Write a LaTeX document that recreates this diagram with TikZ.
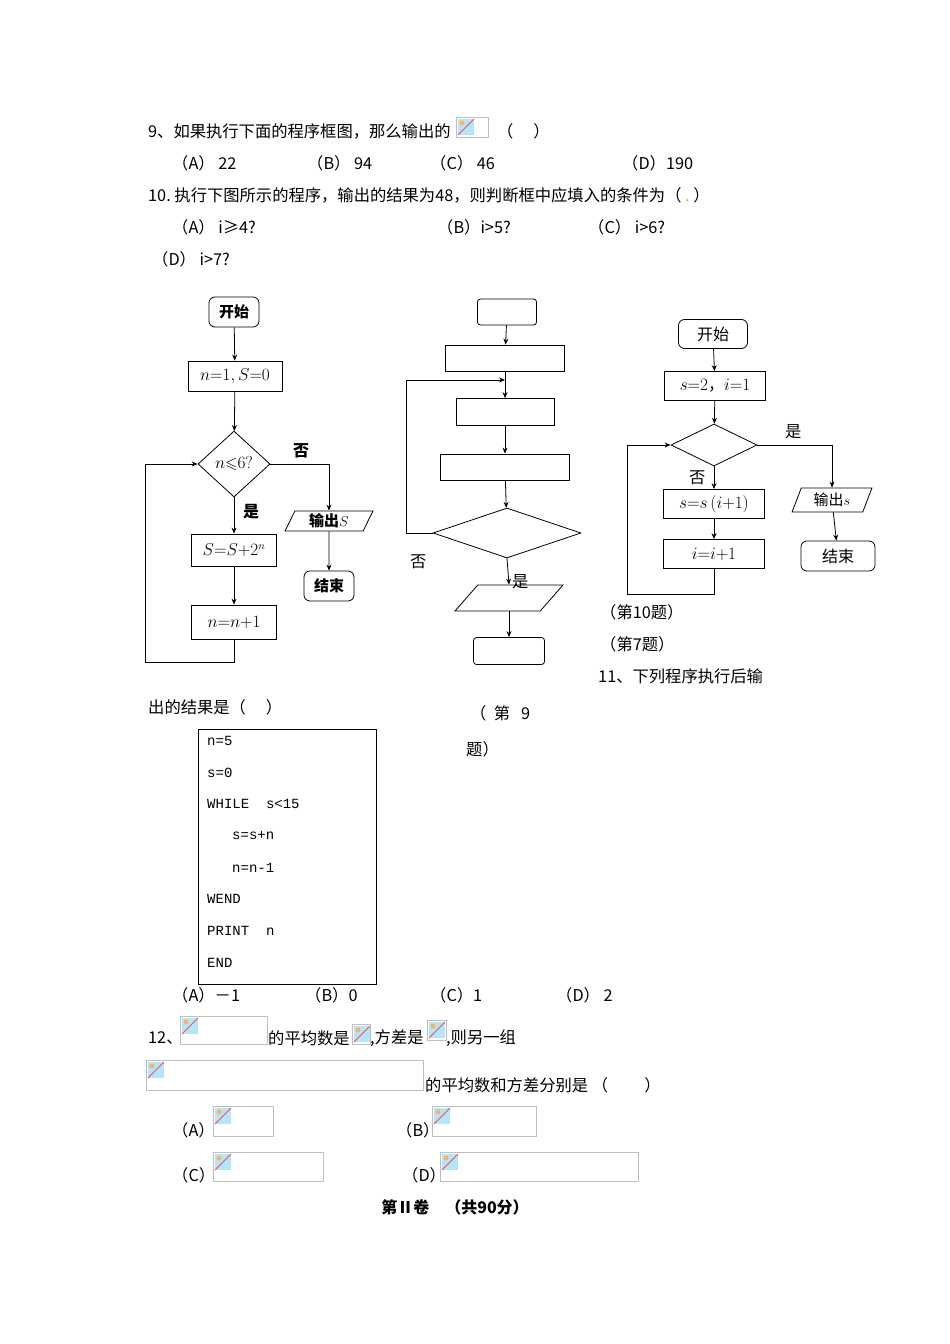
\documentclass[tikz,border=0pt]{standalone}
\usepackage{amssymb}
\usepackage{fontspec}
\setmainfont{Noto Sans CJK SC}
\newfontfamily\codefont{Liberation Mono}
\usetikzlibrary{shapes.geometric,arrows.meta}
\tikzset{
 txt/.style={anchor=west,inner sep=0pt,font=\fontsize{16.3}{18}\selectfont},
 fbox/.style={draw,thick,minimum height=30pt,inner sep=1pt,font=\fontsize{16}{18}\selectfont},
 rbox/.style={fbox,rounded corners=6pt},
 dia/.style={draw,thick,diamond,aspect=1,inner sep=0pt,font=\fontsize{16}{18}\selectfont},
 par/.style={draw,thick,trapezium,trapezium left angle=70,trapezium right angle=110,trapezium stretches=true,inner sep=1pt,font=\fontsize{15}{17}\selectfont},
 arr/.style={thick,-{Stealth[length=6pt,width=5pt]}},
 ph/.style={draw=gray!50,line width=0.6pt}
}
\newcommand{\imgph}[4]{\draw[ph] (#1,#2) rectangle (#3,#4);
 \fill[cyan!30] (#1+2,#2+2) rectangle (#1+18,#2+18);
 \fill[orange!60] (#1+6,#2+6) circle (2.5);
 \draw[red!70,thick] (#1+2,#2+18) -- (#1+18,#2+2);}
\begin{document}
\begin{tikzpicture}[x=1pt,y=-1pt]
\useasboundingbox (0,0) rectangle (950,1344);
\node[txt] (t9) at (148,131) {9、如果执行下面的程序框图，那么输出的};
\imgph{456}{117}{488}{137}
\node[txt] at (497,131) {（\quad\ ）};
\node[txt] at (172,163) {（A）\ 22};
\node[txt] at (307,163) {（B）\ 94};
\node[txt] at (430,163) {（C）\ 46};
\node[txt] at (622,163) {（D）190};
\node[txt] at (148,195) {10.\ 执行下图所示的程序，输出的结果为48，则判断框中应填入的条件为（\ \textcolor{yellow!60!green}{.}\ ）};
\node[txt] at (172,227) {（A）\ i≥4?};
\node[txt] at (437,227) {（B）i>5?};
\node[txt] at (588,227) {（C）\ i>6?};
\node[txt] at (152,259) {（D）\ i>7?};
% flowchart 1
\node[rbox,minimum width=50pt,font=\bfseries\fontsize{15}{17}\selectfont] (a1) at (234,312) {开始};
\node[fbox,minimum width=94pt] (a2) at (235,376) {$n{=}1,S{=}0$};
\node[dia,minimum width=72pt,minimum height=66pt,aspect=1.1] (a3) at (234,464) {$n{\leqslant}6?$};
\node[fbox,minimum width=85pt,minimum height=32pt] (a4) at (234,550) {$S{=}S{+}2^n$};
\node[fbox,minimum width=85pt,minimum height=34pt] (a5) at (234,622) {$n{=}n{+}1$};
\node[par,minimum width=88pt,minimum height=20pt,font=\bfseries\fontsize{15}{17}\selectfont] (a6) at (329,521) {输出$S$};
\node[rbox,minimum width=50pt,font=\bfseries\fontsize{15}{17}\selectfont] (a7) at (329,586) {结束};
\draw[arr] (a1) -- (a2);
\draw[arr] (a2) -- (a3);
\draw[arr] (a3) -- (a4);
\draw[arr] (a4) -- (a5);
\draw[arr] (a3.east) -| (a6.north);
\draw[arr] (a6) -- (a7);
\coordinate (c1) at (234,662); \coordinate (c2) at (145,662); \coordinate (c3) at (145,464);
\draw[arr] (a5.south) -- (c1) -- (c2) -- (c3) -- (a3.west);
\node[txt,font=\bfseries\fontsize{16}{18}\selectfont] at (293,451) {否};
\node[txt,font=\bfseries\fontsize{16}{18}\selectfont] at (243,512) {是};
% flowchart 2
\node[rbox,minimum width=59pt,minimum height=26pt,rounded corners=3pt] (b1) at (507,312) {};
\node[fbox,minimum width=119pt,minimum height=26pt] (b2) at (505,358) {};
\node[fbox,minimum width=98pt,minimum height=27pt] (b3) at (505,412) {};
\node[fbox,minimum width=129pt,minimum height=26pt] (b4) at (505,467) {};
\node[dia,minimum width=148pt,minimum height=50pt,aspect=3] (b5) at (507,533) {};
\node[par,minimum width=108pt,minimum height=26pt] (b6) at (509,598) {};
\node[rbox,minimum width=71pt,minimum height=27pt,rounded corners=3pt] (b7) at (509,651) {};
\draw[arr] (b1) -- (b2);
\draw[arr] (b2) -- (b3);
\draw[arr] (b3) -- (b4);
\draw[arr] (b4) -- (b5);
\draw[arr] (b5.south) -- (b6.north);
\draw[arr] (b6) -- (b7);
\coordinate (d1) at (406,533); \coordinate (d2) at (406,380); \coordinate (d3) at (505,380);
\draw[arr] (b5.west) -- (d1) -- (d2) -- (d3);
\node[txt] at (410,562) {否};
\node[txt] at (512,582) {是};
% flowchart 3
\node[rbox,minimum width=69pt,minimum height=29pt] (e1) at (713,334) {开始};
\node[fbox,minimum width=101pt,minimum height=29pt] (e2) at (715,386) {$s{=}2$，$i{=}1$};
\node[dia,minimum width=86pt,minimum height=42pt,aspect=2] (e3) at (714,445) {};
\node[fbox,minimum width=101pt,minimum height=29pt] (e4) at (714,504) {$s{=}s\,(i{+}1)$};
\node[fbox,minimum width=101pt,minimum height=29pt] (e5) at (714,554) {$i{=}i{+}1$};
\node[par,minimum width=80pt,minimum height=24pt] (e6) at (832,500) {输出$s$};
\node[rbox,minimum width=74pt,minimum height=30pt] (e7) at (838,556) {结束};
\draw[arr] (e1) -- (e2);
\draw[arr] (e2) -- (e3);
\draw[arr] (e3) -- (e4);
\draw[arr] (e4) -- (e5);
\draw[arr] (e3.east) -| (e6.north);
\draw[arr] (e6) -- (e7);
\coordinate (f1) at (714,594); \coordinate (f2) at (627,594); \coordinate (f3) at (627,445);
\draw[arr] (e5.south) -- (f1) -- (f2) -- (f3) -- (e3.west);
\node[txt] at (785,432) {是};
\node[txt] at (689,478) {否};
\node[txt] at (600,612) {（第10题）};
\node[txt] at (600,644) {（第7题）};
\node[txt] at (598,676) {11、下列程序执行后输};
\node[txt] at (148,707) {出的结果是（\quad\ ）};
\node[txt] at (470,713) {（\ \ 第\ \ \ 9};
\node[txt] at (466,749) {题）};
\draw[thin] (198,729) rectangle (376,984);
\begin{scope}[every node/.style={txt,font=\codefont\fontsize{14}{16}\selectfont}]
\node at (207,741) {n=5};
\node at (207,773) {s=0};
\node at (207,804) {WHILE\ \ s<15};
\node at (232,836) {s=s+n};
\node at (232,868) {n=n-1};
\node at (207,899) {WEND};
\node at (207,931) {PRINT\ \ n};
\node at (207,963) {END};
\end{scope}
\node[txt] at (172,995) {（A）－1};
\node[txt] at (305,995) {（B）0};
\node[txt] at (430,995) {（C）1};
\node[txt] at (556,995) {（D）\ 2};
\node[txt] at (148,1038) {12、};
\imgph{180}{1016}{267}{1044}
\node[txt] at (268,1038) {的平均数是};
\imgph{352}{1024}{370}{1044}
\node[txt] at (370,1038) {,方差是};
\imgph{427}{1020}{446}{1040}
\node[txt] at (446,1038) {,则另一组};
\imgph{146}{1060}{423}{1090}
\node[txt] at (425,1085) {的平均数和方差分别是\ （\qquad\ ）};
\node[txt] at (172,1130) {（A）};
\imgph{213}{1106}{273}{1136}
\node[txt] at (396,1130) {（B）};
\imgph{432}{1106}{536}{1136}
\node[txt] at (172,1175) {（C）};
\imgph{213}{1152}{323}{1181}
\node[txt] at (402,1175) {（D）};
\imgph{440}{1152}{638}{1181}
\node[font=\bfseries\fontsize{16}{18}\selectfont] at (455,1207) {第Ⅱ卷\quad （共90分）};
\end{tikzpicture}
\end{document}
